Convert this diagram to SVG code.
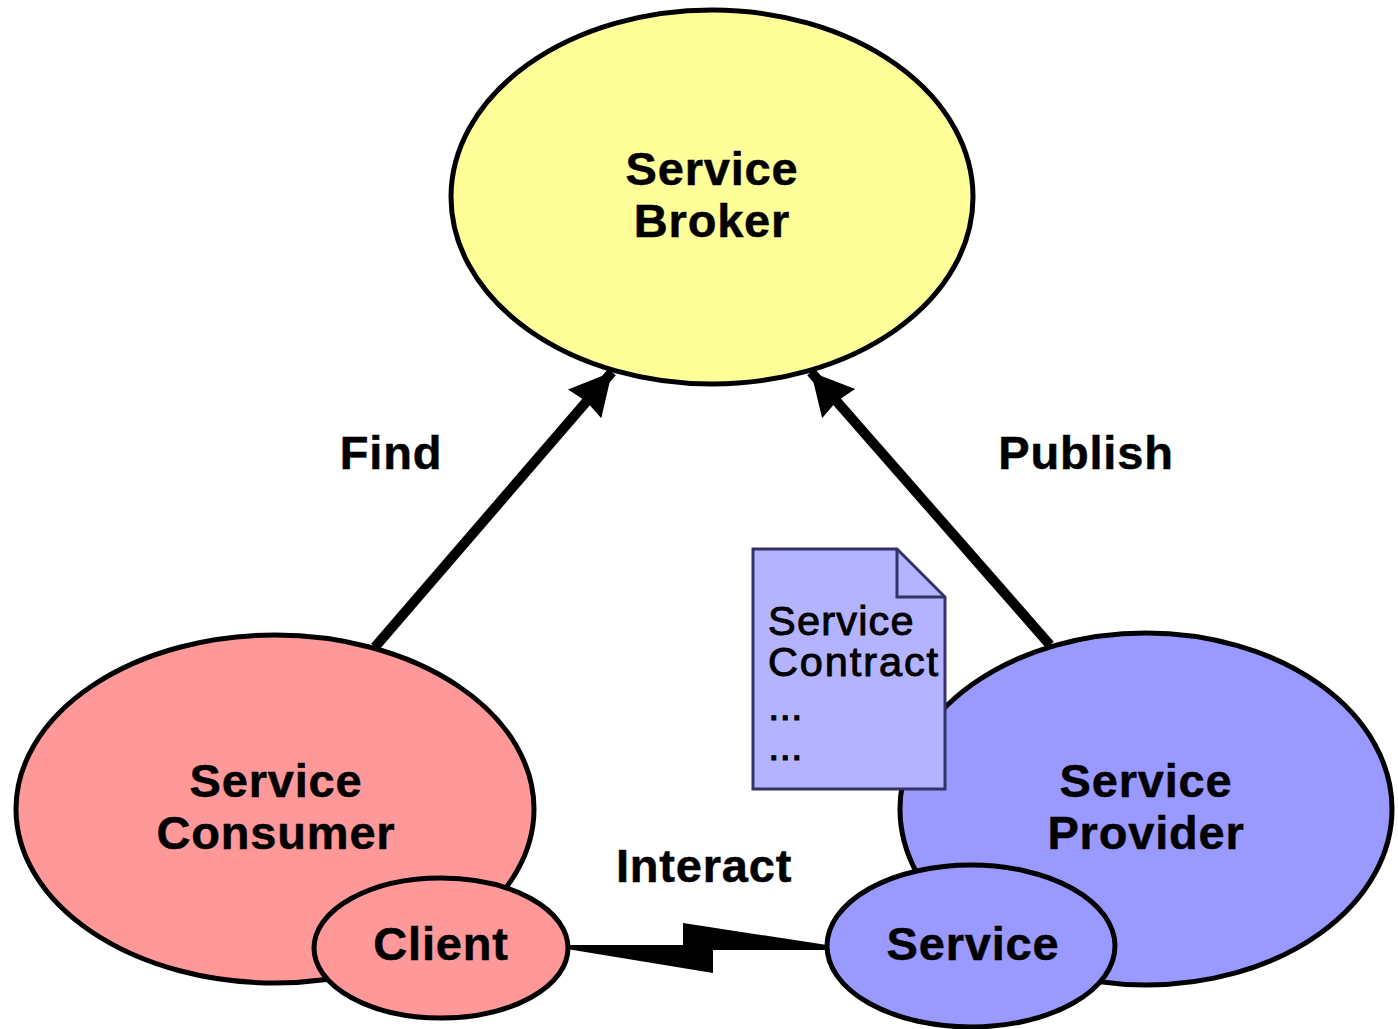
<svg xmlns="http://www.w3.org/2000/svg" width="1398" height="1029" viewBox="0 0 1398 1029">
<defs><style>
.n{stroke:#000;stroke-width:5}
.t{font-family:"Liberation Sans",Arial,sans-serif;font-weight:700;font-size:47px;letter-spacing:.8px;text-anchor:middle;fill:#000;stroke:#000;stroke-width:.5}
.d{font-family:"Liberation Sans",Arial,sans-serif;font-size:41.500px;letter-spacing:1.200px;fill:#000;stroke:#000;stroke-width:1}
</style>
<marker id="a" markerUnits="userSpaceOnUse" markerWidth="46" markerHeight="46" refX="42" refY="22" orient="auto"><path d="M0 0L42 22L0 44L3 22Z" fill="#000"/></marker>
</defs>
<rect width="1398" height="1029" fill="#fff"/>
<g id="connectors">
<path d="M375 647L612 372" stroke="#000" stroke-width="10" fill="none" marker-end="url(#a)"/>
<path d="M1050 645L811 372" stroke="#000" stroke-width="10" fill="none" marker-end="url(#a)"/>
<path id="interact" d="M567 945H683V923L827 945V950H713V973L567 949Z" fill="#000"/>
</g>
<g id="broker"><ellipse class="n" cx="712" cy="197" rx="261" ry="187" fill="#ffff99"/><text class="t" x="712" y="185">Service</text><text class="t" x="712" y="237">Broker</text></g>
<g id="consumer"><ellipse class="n" cx="275" cy="809" rx="259" ry="174" fill="#ff9999"/><text class="t" x="276" y="797">Service</text><text class="t" x="276" y="849">Consumer</text></g>
<g id="provider"><ellipse class="n" cx="1146" cy="809" rx="246" ry="176" fill="#9999ff"/><text class="t" x="1146" y="797">Service</text><text class="t" x="1146" y="849">Provider</text></g>
<g id="client"><ellipse class="n" cx="441" cy="948" rx="127" ry="70" fill="#ff9999"/><text class="t" x="441" y="960">Client</text></g>
<g id="service"><ellipse class="n" cx="971" cy="946" rx="144" ry="81" fill="#9999ff"/><text class="t" x="973" y="960">Service</text></g>
<g id="contract"><path d="M753 549H897L945 597V789H753Z" fill="#b3b3ff" stroke="#333366" stroke-width="3"/><path d="M897 549V597H945" fill="none" stroke="#333366" stroke-width="3"/>
<text class="d" x="768" y="635">Service</text><text class="d" x="768" y="676" style="letter-spacing:1.900px">Contract</text><text class="d" x="768" y="720" style="letter-spacing:0">...</text><text class="d" x="768" y="760" style="letter-spacing:0">...</text></g>
<text class="t" x="391" y="469">Find</text>
<text class="t" x="1086" y="469">Publish</text>
<text class="t" x="704" y="882">Interact</text>
</svg>
